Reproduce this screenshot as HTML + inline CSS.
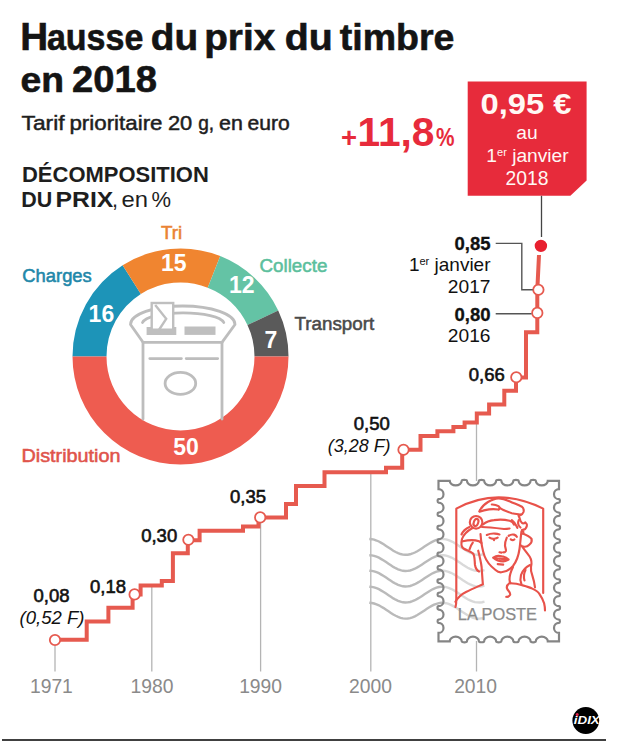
<!DOCTYPE html>
<html><head><meta charset="utf-8">
<style>
html,body{margin:0;padding:0;background:#fff;}
body{width:628px;height:743px;overflow:hidden;position:relative;}
svg{position:absolute;left:0;top:0;}
text{font-family:"Liberation Sans",sans-serif;}
</style></head>
<body>
<svg width="628" height="743" viewBox="0 0 628 743">
<!-- Title -->
<g font-weight="bold" fill="#141414" stroke="#141414" stroke-width="0.6">
<text x="20.3" y="49.6" font-size="39.5" textLength="27.9" lengthAdjust="spacingAndGlyphs">H</text>
<text x="46.9" y="49.6" font-size="36.5" textLength="96.4" lengthAdjust="spacingAndGlyphs">ausse</text>
<text x="150.7" y="49.6" font-size="36.5" textLength="47.4" lengthAdjust="spacingAndGlyphs">du</text>
<text x="204.2" y="49.6" font-size="36.5" textLength="71" lengthAdjust="spacingAndGlyphs">prix</text>
<text x="284.8" y="49.6" font-size="36.5" textLength="48" lengthAdjust="spacingAndGlyphs">du</text>
<text x="339.8" y="49.6" font-size="36.5" textLength="114.6" lengthAdjust="spacingAndGlyphs">timbre</text>
<text x="20.5" y="92" font-size="35" textLength="43.5" lengthAdjust="spacingAndGlyphs">en</text>
<text x="72" y="92" font-size="37.5" textLength="85" lengthAdjust="spacingAndGlyphs">2018</text>
</g>
<g font-size="21" fill="#1e1e1e" stroke="#1e1e1e" stroke-width="0.5">
<text x="21.6" y="129.7" textLength="43.0" lengthAdjust="spacingAndGlyphs">Tarif</text>
<text x="69.4" y="129.7" textLength="93.1" lengthAdjust="spacingAndGlyphs">prioritaire</text>
<text x="167.9" y="129.7" textLength="24.3" lengthAdjust="spacingAndGlyphs">20</text>
<text x="198.2" y="129.7" textLength="15.9" lengthAdjust="spacingAndGlyphs">g,</text>
<text x="219.0" y="129.7" textLength="23.8" lengthAdjust="spacingAndGlyphs">en</text>
<text x="247.6" y="129.7" textLength="42.2" lengthAdjust="spacingAndGlyphs">euro</text>
</g>
<text x="22" y="181.8" font-size="21.6" font-weight="bold" fill="#1e1e1e" textLength="186.8" lengthAdjust="spacingAndGlyphs">DÉCOMPOSITION</text>
<g font-size="21.6" fill="#1e1e1e">
<text x="21.2" y="207" font-weight="bold" textLength="31" lengthAdjust="spacingAndGlyphs">DU</text>
<text x="55.5" y="207" font-weight="bold" textLength="57.8" lengthAdjust="spacingAndGlyphs">PRIX</text>
<text x="112" y="207">,</text>
<text x="121.5" y="207" textLength="26.5" lengthAdjust="spacingAndGlyphs">en</text>
<text x="151.5" y="207" textLength="19.5" lengthAdjust="spacingAndGlyphs">%</text>
</g>

<!-- +11,8% -->
<g fill="#e72b3b" font-weight="bold">
<text x="341" y="146.8" font-size="27.5">+</text>
<text x="357.5" y="146.4" font-size="40" textLength="77" lengthAdjust="spacingAndGlyphs">11,8</text>
<text x="436" y="146.4" font-size="25.5" textLength="18.5" lengthAdjust="spacingAndGlyphs">%</text>
</g>

<!-- Red box -->
<path d="M467.7 81.5 H586.6 V180.4 L570.4 195.8 H467.7 Z" fill="#e72b3b"/>
<text x="480.5" y="113.9" font-size="29.5" font-weight="bold" fill="#fff8f4" textLength="91" lengthAdjust="spacingAndGlyphs">0,95 €</text>
<text x="527" y="138.8" font-size="19.2" fill="#fff8f4" text-anchor="middle">au</text>
<text x="527.5" y="161.9" font-size="19.2" fill="#fff8f4" text-anchor="middle">1<tspan font-size="11" dy="-6">er</tspan><tspan dy="6"> janvier</tspan></text>
<text x="527" y="185.4" font-size="19.3" fill="#fff8f4" text-anchor="middle">2018</text>
<line x1="541.5" y1="195.8" x2="541.5" y2="237" stroke="#444" stroke-width="1.3"/>

<!-- Donut -->
<path d="M72.5 356.5 A108 108 0 0 1 122.63 265.31 L140.85 294.02 A74 74 0 0 0 106.5 356.5 Z" fill="#1d94b8"/>
<path d="M122.63 265.31 A108 108 0 0 1 220.26 256.08 L207.74 287.7 A74 74 0 0 0 140.85 294.02 Z" fill="#f08530"/>
<path d="M220.26 256.08 A108 108 0 0 1 278.22 310.52 L247.46 324.99 A74 74 0 0 0 207.74 287.7 Z" fill="#64c3a5"/>
<path d="M278.22 310.52 A108 108 0 0 1 288.5 356.5 L254.5 356.5 A74 74 0 0 0 247.46 324.99 Z" fill="#5a5a5a"/>
<path d="M288.5 356.5 A108 108 0 0 1 72.5 356.5 L106.5 356.5 A74 74 0 0 0 254.5 356.5 Z" fill="#ee5c50"/>
<!-- mailbox -->
<g stroke="#bdbdbd" stroke-width="2.8" fill="none" stroke-linecap="round" stroke-linejoin="round">
  <path d="M143 419 V342.3 H222 V419"/>
  <path d="M143 342.3 L130.5 324.5 A52.25 18.5 0 0 1 235 324.5 L222 342.3"/>
  <path d="M142.5 322.5 A41 11 0 0 1 223.8 322.5"/>
  <path d="M149.8 358.6 H181.4 M186.2 358.6 H217.7"/>
  <ellipse cx="180.4" cy="383.4" rx="15.3" ry="11"/>
</g>
<rect x="146.6" y="327" width="29.7" height="8" fill="#bfbfbf"/>
<rect x="184.5" y="326.5" width="31" height="8.4" fill="#bfbfbf"/>
<rect x="151.7" y="303" width="21.5" height="26.7" fill="#fff" stroke="#bfbfbf" stroke-width="2.4"/>
<path d="M155.2 305 L166.2 318.8 L158.9 330" fill="none" stroke="#bfbfbf" stroke-width="2.4"/>

<!-- donut numbers -->
<g font-size="23" font-weight="bold" fill="#fff" text-anchor="middle">
  <text x="101.4" y="321.8">16</text>
  <text x="173.7" y="271.4">15</text>
  <text x="241.8" y="292.6">12</text>
  <text x="270.8" y="348">7</text>
  <text x="186" y="455.4">50</text>
</g>
<g font-size="18.8" stroke-width="0.55">
  <text x="22.3" y="282" fill="#2187a9" stroke="#2187a9" textLength="69.5" lengthAdjust="spacingAndGlyphs">Charges</text>
  <text x="161" y="238.8" fill="#ea8334" stroke="#ea8334">Tri</text>
  <text x="259.5" y="271.8" fill="#5cbf9d" stroke="#5cbf9d">Collecte</text>
  <text x="294.5" y="330.4" fill="#4a4a4a" stroke="#4a4a4a">Transport</text>
  <text x="21.5" y="461.5" fill="#e0544b" stroke="#e0544b" textLength="99" lengthAdjust="spacingAndGlyphs">Distribution</text>
</g>

<!-- gridlines -->
<g stroke="#b4b4b4" stroke-width="1.3">
  <line x1="55" y1="646" x2="55" y2="671.5"/>
  <line x1="151.8" y1="587" x2="151.8" y2="671.5"/>
  <line x1="260.6" y1="523" x2="260.6" y2="671.5"/>
  <line x1="370.8" y1="472" x2="370.8" y2="671.5"/>
  <line x1="476.5" y1="413" x2="476.5" y2="481"/>
  <line x1="476.5" y1="641" x2="476.5" y2="671.5"/>
</g>
<g font-size="19.3" fill="#8a8a8a" text-anchor="middle">
  <text x="51.4" y="692.6">1971</text>
  <text x="152" y="692.5">1980</text>
  <text x="260.6" y="692.5">1990</text>
  <text x="370.5" y="692.5">2000</text>
  <text x="475.6" y="692.5">2010</text>
</g>

<!-- waves -->
<path d="M369.3 539.0 L371.7 539.2 L374.1 539.7 L376.5 540.5 L378.9 541.5 L381.3 542.9 L383.7 544.3 L386.1 545.9 L388.5 547.5 L390.9 549.1 L393.3 550.7 L395.7 552.0 L398.1 553.1 L400.5 554.0 L402.9 554.6 L405.3 554.8 L407.7 554.7 L410.1 554.3 L412.5 553.5 L414.9 552.5 L417.3 551.2 L419.7 549.8 L422.1 548.2 L424.5 546.6 L426.9 545.0 L429.3 543.5 L431.7 542.1 L434.1 540.9 L436.5 540.0 L438.9 539.3 L441.3 539.0 L443.7 539.1 L446.1 539.4 L448.5 540.1 L450.9 541.1 L453.3 542.3 L455.7 543.7 L458.1 545.2 L460.5 546.9 L462.9 548.5 L465.3 550.0 L467.7 551.5 L470.1 552.7 L472.5 553.7 L474.9 554.4 L477.3 554.7 L479.7 554.8 L482.1 554.5 L484.5 553.9 M369.3 555.2 L371.7 555.4 L374.1 555.9 L376.5 556.7 L378.9 557.7 L381.3 559.1 L383.7 560.5 L386.1 562.1 L388.5 563.7 L390.9 565.3 L393.3 566.9 L395.7 568.2 L398.1 569.3 L400.5 570.2 L402.9 570.8 L405.3 571.0 L407.7 570.9 L410.1 570.5 L412.5 569.7 L414.9 568.7 L417.3 567.4 L419.7 566.0 L422.1 564.4 L424.5 562.8 L426.9 561.2 L429.3 559.7 L431.7 558.3 L434.1 557.1 L436.5 556.2 L438.9 555.5 L441.3 555.2 L443.7 555.3 L446.1 555.6 L448.5 556.3 L450.9 557.3 L453.3 558.5 L455.7 559.9 L458.1 561.4 L460.5 563.1 L462.9 564.7 L465.3 566.2 L467.7 567.7 L470.1 568.9 L472.5 569.9 L474.9 570.6 L477.3 570.9 L479.7 571.0 L482.1 570.7 L484.5 570.1 M369.3 570.7 L371.7 570.9 L374.1 571.4 L376.5 572.2 L378.9 573.2 L381.3 574.6 L383.7 576.0 L386.1 577.6 L388.5 579.2 L390.9 580.8 L393.3 582.4 L395.7 583.7 L398.1 584.8 L400.5 585.7 L402.9 586.3 L405.3 586.5 L407.7 586.4 L410.1 586.0 L412.5 585.2 L414.9 584.2 L417.3 582.9 L419.7 581.5 L422.1 579.9 L424.5 578.3 L426.9 576.7 L429.3 575.2 L431.7 573.8 L434.1 572.6 L436.5 571.7 L438.9 571.0 L441.3 570.7 L443.7 570.8 L446.1 571.1 L448.5 571.8 L450.9 572.8 L453.3 574.0 L455.7 575.4 L458.1 576.9 L460.5 578.6 L462.9 580.2 L465.3 581.7 L467.7 583.2 L470.1 584.4 L472.5 585.4 L474.9 586.1 L477.3 586.4 L479.7 586.5 L482.1 586.2 L484.5 585.6 M369.3 586.7 L371.7 586.9 L374.1 587.4 L376.5 588.2 L378.9 589.2 L381.3 590.6 L383.7 592.0 L386.1 593.6 L388.5 595.2 L390.9 596.8 L393.3 598.4 L395.7 599.7 L398.1 600.8 L400.5 601.7 L402.9 602.3 L405.3 602.5 L407.7 602.4 L410.1 602.0 L412.5 601.2 L414.9 600.2 L417.3 598.9 L419.7 597.5 L422.1 595.9 L424.5 594.3 L426.9 592.7 L429.3 591.2 L431.7 589.8 L434.1 588.6 L436.5 587.7 L438.9 587.0 L441.3 586.7 L443.7 586.8 L446.1 587.1 L448.5 587.8 L450.9 588.8 L453.3 590.0 L455.7 591.4 L458.1 592.9 L460.5 594.6 L462.9 596.2 L465.3 597.7 L467.7 599.2 L470.1 600.4 L472.5 601.4 L474.9 602.1 L477.3 602.4 L479.7 602.5 L482.1 602.2 L484.5 601.6 M369.3 602.8 L371.7 603.0 L374.1 603.5 L376.5 604.3 L378.9 605.3 L381.3 606.7 L383.7 608.1 L386.1 609.7 L388.5 611.3 L390.9 612.9 L393.3 614.5 L395.7 615.8 L398.1 616.9 L400.5 617.8 L402.9 618.4 L405.3 618.6 L407.7 618.5 L410.1 618.1 L412.5 617.3 L414.9 616.3 L417.3 615.0 L419.7 613.6 L422.1 612.0 L424.5 610.4 L426.9 608.8 L429.3 607.3 L431.7 605.9 L434.1 604.7 L436.5 603.8 L438.9 603.1 L441.3 602.8 L443.7 602.9 L446.1 603.2 L448.5 603.9 L450.9 604.9 L453.3 606.1 L455.7 607.5 L458.1 609.0 L460.5 610.7 L462.9 612.3 L465.3 613.8 L467.7 615.3 L470.1 616.5 L472.5 617.5 L474.9 618.2 L477.3 618.5 L479.7 618.6 L482.1 618.3 L484.5 617.7" fill="none" stroke="#bababa" stroke-width="2.4"/>
<!-- stamp -->
<path d="M438.5 480.8 L449.71 480.8 A6 4.6 0 0 0 461.71 480.8 A2.61 1.0 0 0 1 466.93 480.8 A6 4.6 0 0 0 478.93 480.8 A2.61 1.0 0 0 1 484.14 480.8 A6 4.6 0 0 0 496.14 480.8 A2.61 1.0 0 0 1 501.36 480.8 A6 4.6 0 0 0 513.36 480.8 A2.61 1.0 0 0 1 518.57 480.8 A6 4.6 0 0 0 530.57 480.8 A2.61 1.0 0 0 1 535.79 480.8 A6 4.6 0 0 0 547.79 480.8 L559 480.8 L559 489.18 A5 5 0 0 0 559 499.18 A1.0 1.69 0 0 1 559 502.55 A5 5 0 0 0 559 512.55 A1.0 1.69 0 0 1 559 515.92 A5 5 0 0 0 559 525.92 A1.0 1.69 0 0 1 559 529.3 A5 5 0 0 0 559 539.3 A1.0 1.69 0 0 1 559 542.67 A5 5 0 0 0 559 552.67 A1.0 1.69 0 0 1 559 556.05 A5 5 0 0 0 559 566.05 A1.0 1.69 0 0 1 559 569.42 A5 5 0 0 0 559 579.42 A1.0 1.69 0 0 1 559 582.8 A5 5 0 0 0 559 592.8 A1.0 1.69 0 0 1 559 596.17 A5 5 0 0 0 559 606.17 A1.0 1.69 0 0 1 559 609.55 A5 5 0 0 0 559 619.55 A1.0 1.69 0 0 1 559 622.92 A5 5 0 0 0 559 632.92 L559 641.3 L547.79 641.3 A6 4.6 0 0 0 535.79 641.3 A2.61 1.0 0 0 1 530.57 641.3 A6 4.6 0 0 0 518.57 641.3 A2.61 1.0 0 0 1 513.36 641.3 A6 4.6 0 0 0 501.36 641.3 A2.61 1.0 0 0 1 496.14 641.3 A6 4.6 0 0 0 484.14 641.3 A2.61 1.0 0 0 1 478.93 641.3 A6 4.6 0 0 0 466.93 641.3 A2.61 1.0 0 0 1 461.71 641.3 A6 4.6 0 0 0 449.71 641.3 L438.5 641.3 L438.5 632.92 A5 5 0 0 0 438.5 622.92 A1.0 1.69 0 0 1 438.5 619.55 A5 5 0 0 0 438.5 609.55 A1.0 1.69 0 0 1 438.5 606.17 A5 5 0 0 0 438.5 596.17 A1.0 1.69 0 0 1 438.5 592.8 A5 5 0 0 0 438.5 582.8 A1.0 1.69 0 0 1 438.5 579.42 A5 5 0 0 0 438.5 569.42 A1.0 1.69 0 0 1 438.5 566.05 A5 5 0 0 0 438.5 556.05 A1.0 1.69 0 0 1 438.5 552.67 A5 5 0 0 0 438.5 542.67 A1.0 1.69 0 0 1 438.5 539.3 A5 5 0 0 0 438.5 529.3 A1.0 1.69 0 0 1 438.5 525.92 A5 5 0 0 0 438.5 515.92 A1.0 1.69 0 0 1 438.5 512.55 A5 5 0 0 0 438.5 502.55 A1.0 1.69 0 0 1 438.5 499.18 A5 5 0 0 0 438.5 489.18 Z" fill="#fff" fill-opacity="0.45" stroke="#858585" stroke-width="2.2"/>
<g fill="none" stroke="#e8524a" stroke-width="2.15" stroke-linecap="round" stroke-linejoin="round">
  <path d="M455.5 607 Q456.3 604 456.3 600 V508.6 Q497.7 486 543.2 508.6 V593"/>
  <path d="M479.5 511.2 C481 507.5 484 504.5 488 502 C492 499.5 495.5 498.3 498.4 498.3 C502 498.3 506 499.7 510 501.5 C514 503.3 518 504.8 521.9 506.7 C523.5 508 524 510 523.5 512 C523 513.5 521.8 514.6 520.2 515.1"/>
  <path d="M491.8 504.5 C494 504.4 496.5 505 498.5 506.2 C500 507.2 500 508.5 498.8 509.5"/>
  <path d="M499.6 507.8 C502 509.5 506 511.5 511.8 513.2 C515 514 518.5 514.2 520.7 514.5"/>
  <path d="M479.5 511.7 C482 510.8 485 510 489 509.4 C493 509 496 509.2 498.4 509.5"/>
  <path d="M483 524.5 C486 522 490 520.5 494 520.1 C499 519.3 505 519.6 509.6 520.7 C512 521.3 513.5 522.8 514 524.6"/>
  <path d="M482 527 C488 527 496 528 504 529 C506 529 508 528.8 509.6 528.5"/>
  <path d="M511.8 520.1 C513 521 514.5 522.5 516.3 525.7 C516.8 526.6 517.2 527.3 517.4 527.9"/>
  <circle cx="476.1" cy="522.3" r="6.3"/>
  <ellipse cx="476" cy="522.5" rx="2.2" ry="3.7" transform="rotate(20 476 522.5)"/>
  <path d="M472.5 528 C468 530.5 463.5 534.5 462 539 C461 543 461.5 547 463.5 548.5 C466.5 550.5 470.5 551 473 553.5 C475 556 474.5 561 475 565 C475.5 568 477 570.5 479 571.5"/>
  <path d="M462.8 541.3 C467 540.3 472 540 475.5 540.4 C478 540.8 480 541.5 481.5 543"/>
  <path d="M472.8 542.6 C471 545 470 547.5 469.5 549.5"/>
  <path d="M469.5 527 C466 528.5 463 531 461.5 534.5"/>
  <path d="M486.8 535 C489 534 492.3 533.4 495 533.6 C497 533.8 498.5 534.2 499.5 534.5"/>
  <path d="M489.5 537.6 C491 538.6 493 539 494.3 538.8 C495.5 538.6 497 538.2 497.7 537.7 M493.5 539 L494 540.2"/>
  <path d="M480.5 534 C481 541 482 549 484.5 556 C486.5 561.5 491 566.5 495.5 570 C497.5 571.8 499.5 572.5 501.4 572.3 C505 572 509 570.5 513 566 C516.5 561.5 518.5 556 519.5 549 C520.3 543 520.8 537 521.4 531.5"/>
  <path d="M508.6 535.9 C510 534.8 512 534.2 514 534.6 C515.3 535 516.3 535.8 516.8 536.8 M510.8 539.3 C512 540.3 513.3 540.3 514.3 539.5"/>
  <path d="M506.8 537.7 C505.6 540.5 504.8 543 505 545.5 C505.3 548 506.3 550 505.9 551 C505.3 552 504 552.5 503.2 552.3 M499.5 552.3 L501.5 552.6"/>
  <path d="M493.2 557.7 C495 556.5 497 555.8 498.6 555.9 C500.5 556 502 556.4 503.2 556.5 C505 557 507 558 508.6 559.5 C506.5 560.7 504.5 561.4 503.2 561.4 C501 561.3 499.3 561 497.7 560.5 C496 559.8 494.5 558.8 493.2 557.7 Z M494.5 558 C498 558.5 503 558.7 507.5 559.4" />
  <path d="M497.7 564.1 L503.2 564.6"/>
  <path d="M478.2 550.7 C479.5 556 481 562 481.6 567 C482 572 482.3 578 482.9 584.3 C478 586.5 472 589 466 592 C461 594.5 457.5 598 455.4 601.8"/>
  <path d="M518.5 515.6 C519.5 517.5 520 519.5 520.7 521.2 C521.5 522.5 522.2 523.3 523 523.4 C524 523.4 524.8 522.8 525.2 522.3 C526.5 523.5 527.2 524.8 526.9 525.7 C526.5 527.3 525.8 528.4 525.2 529 C524 529.8 523 530 521.9 530.1 C523.5 531.5 524 533 522.8 533.6"/>
  <path d="M522.8 533.6 C525 534.5 529.5 536.5 531.6 539 C532 541.5 531 543.5 529.6 544.4 C527.5 546.5 525 547 523.5 546.5"/>
  <path d="M521.5 545.7 C523 548 526.5 552 529.6 556.5 C531.5 559.5 532 563 531 567 C530.5 570 531.5 573 532.3 575.3 C533.5 579 534.5 583 535 587.4"/>
  <path d="M530 565 C526 567 522.5 570.5 521 575 C520 578.5 520.5 582 521.5 584.5"/>
  <path d="M525.5 570 C524 573 523.5 577 524.5 580.5"/>
  <path d="M518.8 520 C517.5 523 518.5 526 520.5 527.5"/>
  <path d="M513 567 C511 571 509.5 575 509.5 579.5 C509.5 581 510 582.3 510.5 583.2"/>
  <path d="M509.5 583.2 C507 585 506 587 507.5 589.5 C509 591.5 511 593 510 595 C509 596.5 507.5 597 506.3 596.8"/>
  <path d="M510.5 583.2 C514 583.3 518 583.8 521.4 585 C525 586 529 587 532.3 588.6 C536 590.3 538.5 592 539.5 594.1 C541.5 597 543.2 600 544.1 603.2 C544.8 606 545 608 545 610.5"/>
</g>
<text x="457.8" y="620.2" font-size="15.8" fill="#8a8a8a" stroke="#8a8a8a" stroke-width="0.25" textLength="79.2" lengthAdjust="spacingAndGlyphs">LA POSTE</text>

<!-- step line -->
<path fill="none" stroke="#e65a4f" stroke-width="4" stroke-linejoin="miter" d="M55 639.8 H86.7 V621.5 H108.4 V607.8 H132.6 V594.4 H140.6 V585.4 H161.8 V581 H172.9 V553.2 H187.8 V540.3 H199.6 V530.7 H243 V526.4 H258.5 V517.4 H286 V504 H296 V486 H324.5 V472.3 H386 V467.8 H402.2 V449.8 H420.5 V436 H437.4 V431.2 H453.4 V427 H464.6 V422.5 H476.8 V413.6 H489.1 V404.6 H504.3 V390.8 H516 V377.5 H526 V332.3 H537.3 V289.8 L539 255"/>
<g fill="#fff" stroke="#e65a4f" stroke-width="1.8">
  <circle cx="55" cy="640" r="5.2"/>
  <circle cx="134.6" cy="594.4" r="5.2"/>
  <circle cx="188.4" cy="539.8" r="5.2"/>
  <circle cx="260.2" cy="517.4" r="5.2"/>
  <circle cx="403.5" cy="449.8" r="5.2"/>
  <circle cx="516.3" cy="377.3" r="5.2"/>
  <circle cx="537.3" cy="312.9" r="5.2"/>
  <circle cx="538.4" cy="289.8" r="5.2"/>
</g>
<circle cx="540.9" cy="245.9" r="7.2" fill="#e8202f" stroke="#fff" stroke-width="2"/>

<!-- leaders -->
<path d="M495.7 243.4 H521.8 V289.8 H532.8 M495.7 313.8 H531.5" fill="none" stroke="#555" stroke-width="1.4"/>

<!-- value labels -->
<g font-size="18.5" fill="#111">
  <text x="51.5" y="602.3" text-anchor="middle" stroke="#111" stroke-width="0.6">0,08</text>
  <text x="52" y="624" text-anchor="middle" font-style="italic">(0,52 F)</text>
  <text x="108" y="593.2" text-anchor="middle" stroke="#111" stroke-width="0.6">0,18</text>
  <text x="159.2" y="542.4" text-anchor="middle" stroke="#111" stroke-width="0.6">0,30</text>
  <text x="248" y="503" text-anchor="middle" stroke="#111" stroke-width="0.6">0,35</text>
  <text x="389.8" y="430" text-anchor="end" stroke="#111" stroke-width="0.6">0,50</text>
  <text x="390.6" y="452.3" text-anchor="end" font-style="italic" textLength="62.8" lengthAdjust="spacingAndGlyphs">(3,28 F)</text>
  <text x="504.8" y="381.2" text-anchor="end" stroke="#111" stroke-width="0.6">0,66</text>
  <text x="490.5" y="249.6" text-anchor="end" font-weight="bold" stroke="#111" stroke-width="0.3">0,85</text>
  <text x="490.5" y="271.4" text-anchor="end" font-size="19">1<tspan font-size="11" dy="-6">er</tspan><tspan dy="6"> janvier</tspan></text>
  <text x="490.5" y="292.5" text-anchor="end" font-size="19.2">2017</text>
  <text x="490.5" y="320.5" text-anchor="end" font-weight="bold" stroke="#111" stroke-width="0.3">0,80</text>
  <text x="490.5" y="341.5" text-anchor="end" font-size="19.2">2016</text>
</g>

<!-- IDIX logo -->
<circle cx="585.8" cy="720.5" r="13.4" fill="#000"/>
<text x="573.8" y="724" font-size="10.3" font-weight="bold" font-style="italic" fill="#fff" textLength="26" lengthAdjust="spacingAndGlyphs">iDIX</text>
<circle cx="577.2" cy="714.6" r="1.5" fill="#e0204a"/>
<line x1="2" y1="740" x2="606" y2="740" stroke="#000" stroke-width="1.6"/>
</svg>
</body></html>
